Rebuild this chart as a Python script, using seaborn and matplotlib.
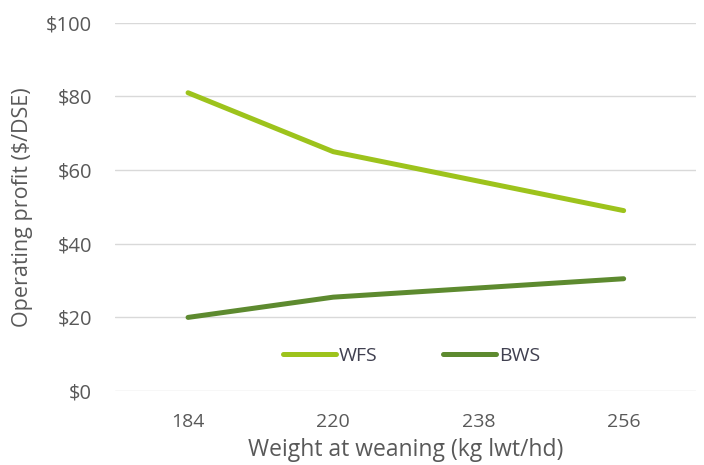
import numpy as np
import pandas as pd
import seaborn as sns
import matplotlib.pyplot as plt

# Data
weights = ["184", "220", "238", "256"]
wfs = [81, 65, 57, 49]
bws = [20, 25.5, 28, 30.5]

df = pd.DataFrame({
    "Weight": weights * 2,
    "Profit": wfs + bws,
    "System": ["WFS"] * 4 + ["BWS"] * 4,
})

sns.set_theme(style="white")
plt.rcParams['font.family'] = ['Open Sans', 'DejaVu Sans']
text_col = "#595959"

fig = plt.figure(figsize=(7.04, 4.65), dpi=100)
ax = fig.add_axes([0.164, 0.159, 0.825, 0.792])

sns.lineplot(
    data=df, x="Weight", y="Profit", hue="System",
    palette={"WFS": "#9dc31c", "BWS": "#5d8a2f"},
    linewidth=3.6, sort=False, ax=ax,
)

ax.set_xlim(-0.5, 3.5)
ax.set_ylim(0, 100)
ax.set_yticks(range(0, 101, 20))
ax.set_yticklabels([f"${v}" for v in range(0, 101, 20)])
ax.yaxis.grid(True, color="#d9d9d9", linewidth=1)
ax.set_axisbelow(True)
for s in ax.spines.values():
    s.set_visible(False)
ax.tick_params(axis="y", length=0, labelsize=14.5, colors=text_col, pad=17)
ax.tick_params(axis="x", length=0, labelsize=14, colors=text_col, pad=16)

ax.set_xlabel("Weight at weaning (kg lwt/hd)", fontsize=16.5, color=text_col, labelpad=5)
ax.set_ylabel("Operating profit ($/DSE)", fontsize=15.5, color=text_col, labelpad=9)

leg = ax.legend(
    loc="center", bbox_to_anchor=(0.51, 0.095), ncol=2, frameon=False,
    handlelength=2.7, handletextpad=0.15, columnspacing=3.4, fontsize=14,
)
for t in leg.get_texts():
    t.set_color("#404050")

plt.savefig("out.png", dpi=100)
plt.close()
